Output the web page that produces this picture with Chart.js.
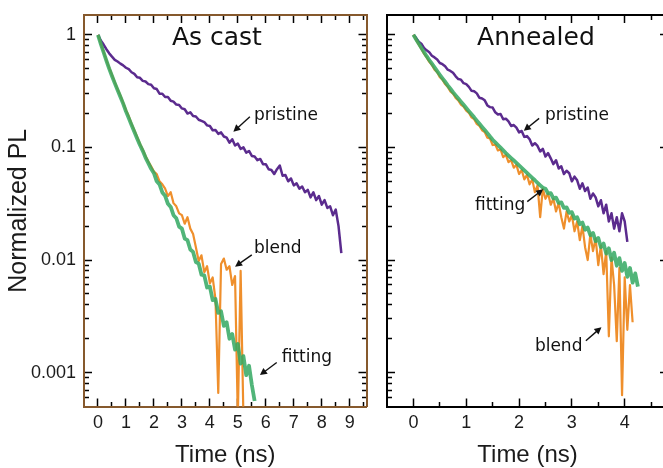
<!DOCTYPE html>
<html>
<head>
<meta charset="utf-8">
<script src="https://cdn.jsdelivr.net/npm/chart.js@4.4.1/dist/chart.umd.min.js"></script>
<style>
  html, body { margin: 0; padding: 0; background: #fff; overflow: hidden; }
  #wrap { position: relative; width: 663px; height: 468px; overflow: hidden; }
  canvas { position: absolute; top: 0; }
  #cast { left: 0; }
  #anneal { left: 380px; }
</style>
</head>
<body>
<div id="wrap">
  <canvas id="cast" width="380" height="468"></canvas>
  <canvas id="anneal" width="300" height="468"></canvas>
</div>
<script>
// sample times (ns)
const castTime = [
  0, 0.1, 0.2, 0.3, 0.4, 0.5, 0.6, 0.7, 0.8, 0.9,
  1, 1.1, 1.2, 1.3, 1.4, 1.5, 1.6, 1.7, 1.8, 1.9,
  2, 2.1, 2.2, 2.3, 2.4, 2.5, 2.6, 2.7, 2.8, 2.9,
  3, 3.1, 3.2, 3.3, 3.4, 3.5, 3.6, 3.7, 3.8, 3.9,
  4, 4.1, 4.2, 4.3, 4.4, 4.5, 4.6, 4.7, 4.8, 4.9,
  5, 5.1, 5.2, 5.3, 5.4, 5.5, 5.6, 5.7, 5.8, 5.9,
  6, 6.1, 6.2, 6.3, 6.4, 6.5, 6.6, 6.7, 6.8, 6.9,
  7, 7.1, 7.2, 7.3, 7.4, 7.5, 7.6, 7.7, 7.8, 7.9,
  8, 8.1, 8.2, 8.3, 8.4, 8.5, 8.6, 8.7
];
const annealTime = [
  0, 0.05, 0.1, 0.15, 0.2, 0.25, 0.3, 0.35, 0.4, 0.45,
  0.5, 0.55, 0.6, 0.65, 0.7, 0.75, 0.8, 0.85, 0.9, 0.95,
  1, 1.05, 1.1, 1.15, 1.2, 1.25, 1.3, 1.35, 1.4, 1.45,
  1.5, 1.55, 1.6, 1.65, 1.7, 1.75, 1.8, 1.85, 1.9, 1.95,
  2, 2.05, 2.1, 2.15, 2.2, 2.25, 2.3, 2.35, 2.4, 2.45,
  2.5, 2.55, 2.6, 2.65, 2.7, 2.75, 2.8, 2.85, 2.9, 2.95,
  3, 3.05, 3.1, 3.15, 3.2, 3.25, 3.3, 3.35, 3.4, 3.45,
  3.5, 3.55, 3.6, 3.65, 3.7, 3.75, 3.8, 3.85, 3.9, 3.95,
  4, 4.05, 4.1, 4.15, 4.2, 4.25
];

// as cast film, normalized PL
const castPristine = [
  1.00, 0.89, 0.82, 0.745, 0.685, 0.64, 0.60, 0.58, 0.555, 0.535,
  0.51, 0.495, 0.465, 0.45, 0.42, 0.415, 0.39, 0.385, 0.365, 0.36,
  0.335, 0.33, 0.30, 0.30, 0.28, 0.28, 0.26, 0.255, 0.24, 0.238,
  0.222, 0.218, 0.20, 0.205, 0.19, 0.188, 0.176, 0.172, 0.168, 0.157,
  0.155, 0.142, 0.143, 0.132, 0.136, 0.125, 0.122, 0.110, 0.118, 0.104,
  0.108, 0.097, 0.100, 0.090, 0.093, 0.084, 0.083, 0.077, 0.079, 0.071,
  0.071, 0.064, 0.063, 0.058, 0.064, 0.069, 0.056, 0.057, 0.050, 0.053,
  0.046, 0.048, 0.043, 0.045, 0.040, 0.042, 0.036, 0.040, 0.034, 0.037,
  0.031, 0.034, 0.029, 0.030, 0.025, 0.028, 0.020, 0.0115
];
const castBlend = [
  1.00, 0.84, 0.71, 0.60, 0.51, 0.44, 0.38, 0.33, 0.29, 0.25,
  0.215, 0.19, 0.162, 0.142, 0.124, 0.108, 0.096, 0.084, 0.075, 0.068,
  0.061, 0.058, 0.050, 0.047, 0.043, 0.037, 0.040, 0.032, 0.030, 0.026,
  0.025, 0.021, 0.024, 0.019, 0.017, 0.013, 0.0098, 0.0110, 0.0078, 0.0088,
  0.0062, 0.0070, 0.0045, 0.00066, 0.0092, 0.0103, 0.0082, 0.0088, 0.0060, 0.0072,
  0.0004, 0.0080, 0.0004
];
const castFit = [
  1.00, 0.832, 0.70, 0.589, 0.501, 0.431, 0.372, 0.324, 0.282, 0.245,
  0.209, 0.182, 0.158, 0.138, 0.120, 0.105, 0.0933, 0.0813, 0.0724, 0.0646,
  0.059, 0.050, 0.047, 0.0398, 0.0372, 0.0316, 0.0296, 0.0250, 0.0235, 0.0198,
  0.0190, 0.0155, 0.0150, 0.0124, 0.0118, 0.0096, 0.0093, 0.0074, 0.0073, 0.0057,
  0.0058, 0.0044, 0.0045, 0.0034, 0.0035, 0.0026, 0.0028, 0.0020, 0.0022, 0.0016,
  0.0018, 0.0012, 0.0014, 0.00095, 0.00115, 0.00078, 0.00056
];

// annealed film, normalized PL
const annealPristine = [
  1.00, 0.94, 0.87, 0.835, 0.765, 0.728, 0.70, 0.652, 0.630, 0.605,
  0.562, 0.548, 0.525, 0.49, 0.478, 0.46, 0.428, 0.405, 0.40, 0.372,
  0.365, 0.345, 0.318, 0.315, 0.302, 0.276, 0.272, 0.262, 0.236, 0.228,
  0.226, 0.205, 0.196, 0.198, 0.178, 0.180, 0.170, 0.155, 0.158, 0.150,
  0.136, 0.140, 0.124, 0.126, 0.118, 0.104, 0.109, 0.103, 0.092, 0.097,
  0.083, 0.089, 0.080, 0.071, 0.077, 0.065, 0.068, 0.058, 0.062, 0.059,
  0.050, 0.055, 0.051, 0.043, 0.048, 0.041, 0.044, 0.035, 0.039, 0.036,
  0.030, 0.034, 0.026, 0.031, 0.022, 0.026, 0.019, 0.024, 0.018, 0.026,
  0.022, 0.0145
];
const annealBlend = [
  1.00, 0.90, 0.82, 0.75, 0.68, 0.63, 0.575, 0.54, 0.49, 0.465,
  0.42, 0.40, 0.365, 0.345, 0.315, 0.30, 0.275, 0.262, 0.24, 0.23,
  0.212, 0.203, 0.185, 0.178, 0.162, 0.155, 0.142, 0.137, 0.122, 0.12,
  0.105, 0.106, 0.094, 0.096, 0.082, 0.086, 0.074, 0.077, 0.066, 0.070,
  0.058, 0.063, 0.052, 0.057, 0.047, 0.052, 0.040, 0.046, 0.024, 0.043,
  0.035, 0.039, 0.031, 0.035, 0.027, 0.032, 0.024, 0.019, 0.027, 0.022,
  0.025, 0.018, 0.022, 0.015, 0.020, 0.013, 0.010, 0.017, 0.012, 0.0155,
  0.009, 0.0135, 0.0075, 0.0120, 0.0021, 0.0105, 0.0060, 0.0019, 0.0085, 0.00063,
  0.0070, 0.0024, 0.0060, 0.0028
];
const annealFit = [
  1.00, 0.912, 0.836, 0.766, 0.703, 0.646, 0.598, 0.555, 0.514, 0.476,
  0.442, 0.411, 0.383, 0.356, 0.332, 0.309, 0.290, 0.272, 0.255, 0.239,
  0.224, 0.210, 0.197, 0.185, 0.173, 0.162, 0.152, 0.143, 0.134, 0.125,
  0.117, 0.111, 0.105, 0.0995, 0.0942, 0.0891, 0.0847, 0.0805, 0.0766, 0.0728,
  0.0692, 0.0658, 0.0625, 0.0594, 0.0565, 0.0537, 0.0511, 0.0485, 0.0461, 0.0439,
  0.0430, 0.0390, 0.0392, 0.0352, 0.0358, 0.0322, 0.0325, 0.0290, 0.0293, 0.0262,
  0.0266, 0.0234, 0.0240, 0.0208, 0.0215, 0.0186, 0.0194, 0.0166, 0.0174, 0.0147,
  0.0157, 0.0130, 0.0140, 0.0114, 0.0127, 0.0100, 0.0116, 0.0089, 0.0104, 0.0080,
  0.0094, 0.0071, 0.0085, 0.0063, 0.0076, 0.0058
];

// axis ticks
const castXMajor = [0, 1, 2, 3, 4, 5, 6, 7, 8, 9];
const castXMinor = [0.5, 1.5, 2.5, 3.5, 4.5, 5.5, 6.5, 7.5, 8.5, 9.5];
const annealXMajor = [0, 1, 2, 3, 4];
const annealXMinor = [0.5, 1.5, 2.5, 3.5, 4.5];
const yDecades = [1, 0.1, 0.01, 0.001];
const yDecadeLabels = ['1', '0.1', '0.01', '0.001'];
const yMantissas = [1, 2, 3, 4, 5, 6, 7, 8, 9];

const Y_MIN = 0.0005, Y_MAX = 1.5;
const yTickValues = [];
[0.0001, 0.001, 0.01, 0.1, 1].forEach(d => {
  yMantissas.forEach(m => {
    const v = m * d;
    if (v > Y_MIN && v <= Y_MAX) yTickValues.push(v);
  });
});
yTickValues.sort((a, b) => a - b);

const PURPLE = '#5b2b8e';
const ORANGE = '#ef8f2c';
const GREEN = 'rgba(50,168,98,0.85)';
const TICK_FONT = {family: 'Liberation Sans, Arial, sans-serif', size: 18};
const TEXT = '#1b1b1b';

function series(times, values) {
  return values.map((v, i) => ({x: times[i], y: v}));
}

// minor ticks reuse the major tick path but stop short with a dash
function gridOpts(startsInside) {
  return {
    display: true,
    drawOnChartArea: false,
    drawTicks: true,
    tickLength: -8,
    tickColor: '#000',
    tickWidth: 1.5,
    tickBorderDash: ctx => (ctx.tick && ctx.tick.major) ? [] : (startsInside ? [0, 3, 6, 40] : [6, 40])
  };
}

// fixed box sizes so both frames sit where they should; label padding is not reserved
function pinBox(s, size) {
  if (s.isHorizontal()) s.height = size; else s.width = size;
  s.paddingTop = 0; s.paddingBottom = 0; s.paddingLeft = 0; s.paddingRight = 0;
}

function xAxis(p, position) {
  const bottom = position === 'bottom';
  const all = p.xMajor.concat(p.xMinor).sort((a, b) => a - b);
  return {
    type: 'linear',
    position,
    min: p.xMin,
    max: p.xMax,
    afterBuildTicks: s => { s.ticks = all.map(v => ({value: v, major: p.xMajor.includes(v)})); },
    afterFit: s => pinBox(s, bottom ? 61.5 : 15),
    ticks: {
      display: bottom, autoSkip: false, maxRotation: 0, minRotation: 0,
      padding: 14, font: TICK_FONT, color: TEXT,
      callback: v => p.xMajor.includes(v) ? String(v) : ''
    },
    grid: gridOpts(!bottom),
    border: {display: true, color: p.frame, width: 2},
    title: {
      display: bottom, text: 'Time (ns)', color: TEXT,
      font: {family: 'Liberation Sans, Arial, sans-serif', size: 24, lineHeight: 1.05},
      padding: {top: 0, bottom: 0}
    }
  };
}

function yAxis(p, position) {
  const left = position === 'left';
  const labelled = left && p.yLabels;
  return {
    type: 'logarithmic',
    position,
    min: Y_MIN,
    max: Y_MAX,
    afterBuildTicks: s => { s.ticks = yTickValues.map(v => ({value: v, major: yDecades.includes(v)})); },
    afterFit: s => pinBox(s, left ? p.leftWidth : p.rightWidth),
    ticks: {
      display: labelled, autoSkip: false, padding: 16, font: TICK_FONT, color: TEXT,
      callback: v => { const i = yDecades.indexOf(v); return i < 0 ? '' : yDecadeLabels[i]; }
    },
    grid: gridOpts(left),
    border: {display: true, color: p.frame, width: 2},
    title: {
      display: labelled, text: 'Normalized PL', color: TEXT,
      font: {family: 'Liberation Sans, Arial, sans-serif', size: 25, lineHeight: 1.2},
      padding: {top: 4, bottom: 0}
    }
  };
}

// panel name plus the arrowed curve labels, placed in data units
function notesPlugin(notes) {
  return {
    id: 'notes',
    afterDatasetsDraw(chart) {
      const {ctx} = chart;
      const sx = chart.scales.x, sy = chart.scales.y;
      const px = pt => [sx.getPixelForValue(pt[0]), sy.getPixelForValue(pt[1])];
      ctx.save();
      ctx.fillStyle = '#111';
      ctx.strokeStyle = '#111';
      ctx.textBaseline = 'alphabetic';
      ctx.font = '25px "DejaVu Sans"';
      ctx.textAlign = 'center';
      const t = px(notes.title.at);
      ctx.fillText(notes.title.text, t[0], t[1]);

      ctx.font = '17px "DejaVu Sans"';
      ctx.textAlign = 'left';
      notes.labels.forEach(l => {
        const a = px(l.at);
        ctx.fillText(l.text, a[0], a[1]);
        const [x1, y1] = px(l.tail);
        const [x2, y2] = px(l.head);
        const ang = Math.atan2(y2 - y1, x2 - x1);
        const len = 7, half = 3.6;
        ctx.lineWidth = 1.4;
        ctx.beginPath();
        ctx.moveTo(x1, y1);
        ctx.lineTo(x2 - Math.cos(ang) * len * 0.8, y2 - Math.sin(ang) * len * 0.8);
        ctx.stroke();
        ctx.beginPath();
        ctx.moveTo(x2, y2);
        ctx.lineTo(x2 - Math.cos(ang) * len + Math.sin(ang) * half, y2 - Math.sin(ang) * len - Math.cos(ang) * half);
        ctx.lineTo(x2 - Math.cos(ang) * len - Math.sin(ang) * half, y2 - Math.sin(ang) * len + Math.cos(ang) * half);
        ctx.closePath();
        ctx.fill();
      });
      ctx.restore();
    }
  };
}

function makePanel(canvasId, p) {
  return new Chart(document.getElementById(canvasId), {
    type: 'line',
    data: {
      datasets: [
        {label: 'fitting', data: p.fit, borderColor: GREEN, borderWidth: 3.8, order: 0},
        {label: 'blend', data: p.blend, borderColor: ORANGE, borderWidth: 2.2, order: 1},
        {label: 'pristine', data: p.pristine, borderColor: PURPLE, borderWidth: 2.5, order: 2}
      ]
    },
    options: {
      responsive: false,
      animation: false,
      devicePixelRatio: 1,
      events: [],
      layout: {padding: 0},
      elements: {
        point: {radius: 0},
        line: {tension: 0, borderJoinStyle: 'round', fill: false}
      },
      plugins: {legend: {display: false}, tooltip: {enabled: false}},
      scales: {
        x: xAxis(p, 'bottom'),
        xTop: xAxis(p, 'top'),
        y: yAxis(p, 'left'),
        yR: yAxis(p, 'right')
      }
    },
    plugins: [notesPlugin(p.notes)]
  });
}

makePanel('cast', {
  pristine: series(castTime, castPristine),
  blend: series(castTime, castBlend),
  fit: series(castTime, castFit),
  xMin: -0.5, xMax: 9.6,
  xMajor: castXMajor, xMinor: castXMinor,
  frame: '#86592d',
  leftWidth: 84, rightWidth: 13.5,
  yLabels: true,
  notes: {
    title: {text: 'As cast', at: [4.25, 0.81]},
    labels: [
      {text: 'pristine', at: [5.58, 0.175], tail: [5.43, 0.187], head: [4.84, 0.138]},
      {text: 'blend', at: [5.58, 0.01155], tail: [5.50, 0.0111], head: [4.90, 0.00873]},
      {text: 'fitting', at: [6.57, 0.00125], tail: [6.39, 0.00123], head: [5.79, 0.00095]}
    ]
  }
});

makePanel('anneal', {
  pristine: series(annealTime, annealPristine),
  blend: series(annealTime, annealBlend),
  fit: series(annealTime, annealFit),
  xMin: -0.5, xMax: 4.82,
  xMajor: annealXMajor, xMinor: annealXMinor,
  frame: '#000',
  leftWidth: 7, rightWidth: 12,
  yLabels: false,
  notes: {
    title: {text: 'Annealed', at: [2.32, 0.81]},
    labels: [
      {text: 'pristine', at: [2.49, 0.175], tail: [2.38, 0.181], head: [2.09, 0.1406]},
      {text: 'fitting', at: [1.166, 0.0278], tail: [2.155, 0.033], head: [2.457, 0.0425]},
      {text: 'blend', at: [2.30, 0.00154], tail: [3.265, 0.00192], head: [3.56, 0.00253]}
    ]
  }
});
</script>
</body>
</html>
